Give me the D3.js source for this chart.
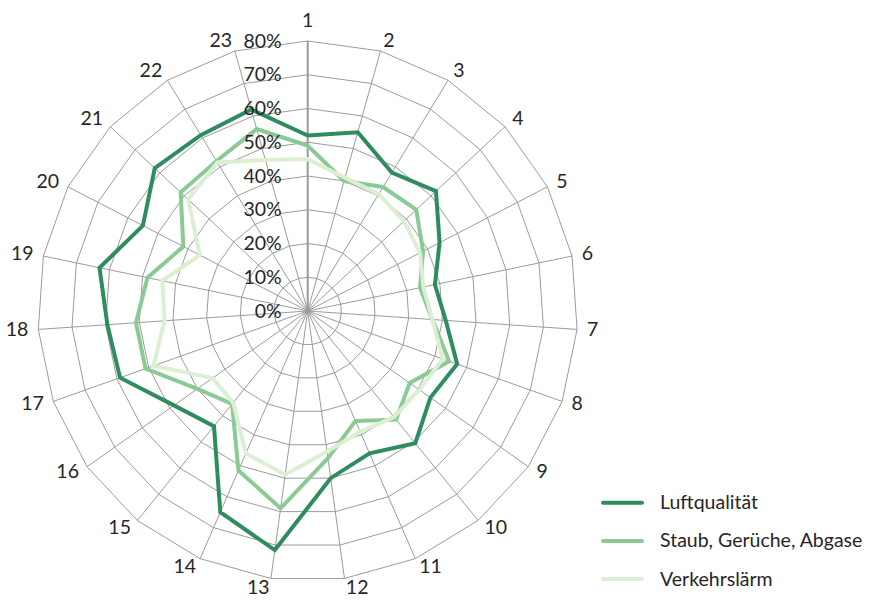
<!DOCTYPE html>
<html>
<head>
<meta charset="utf-8">
<script src="https://cdn.jsdelivr.net/npm/d3@7"></script>
<style>
  html, body { margin: 0; padding: 0; background: #fff; }
  svg { display: block; }
  text { font-family: Lato, "Open Sans", sans-serif; fill: #262626; }
</style>
</head>
<body>
<svg id="chart" width="872" height="602"></svg>
<script>
// Spoke categories (1..23)
const categories = d3.range(1, 24).map(String);

// Percent values per spoke
const luftqualitaet = [52, 55, 48, 52, 44, 38.5, 41, 47, 44.5, 50.5, 46, 50, 71.5, 65, 44, 48.5, 59, 59.5, 63, 55, 62, 61, 62];
const staubGerueche = [49, 40, 43, 44, 38.5, 34, 37, 44.5, 37, 41.5, 35.5, 44, 59, 51.5, 35.5, 40, 51, 51, 48.5, 41.5, 51.5, 52, 56];
const verkehrslaerm = [45, 41, 40.5, 39, 37.5, 35, 37, 42.5, 40.5, 40.5, 39, 42, 49, 46, 35, 34.5, 48.5, 42.5, 44, 36, 48.5, 51.5, 46.5];

const seriesNames = ["Luftqualität", "Staub, Gerüche, Abgase", "Verkehrslärm"];
const seriesColors = ["#2f8c5f", "#8aca96", "#dcefd2"];
const tickValues = [0, 10, 20, 30, 40, 50, 60, 70, 80];

const series = [luftqualitaet, staubGerueche, verkehrslaerm].map((values, i) => ({
  name: seriesNames[i], color: seriesColors[i], values
}));

const svg = d3.select("#chart");
const cx = 307.7, cy = 311;
const fontSize = 19.5;
const r = d3.scaleLinear().domain([0, 80]).range([0, 270]);
const step = 2 * Math.PI / categories.length;
const theta = (c) => categories.indexOf(c) * step;

const g = svg.append("g").attr("transform", `translate(${cx},${cy})`);

// Concentric grid polygons
const ring = d3.lineRadial()
  .angle(d => theta(d.c))
  .radius(d => r(d.v))
  .curve(d3.curveLinearClosed);

g.append("g").selectAll("path")
  .data(tickValues.filter(v => v > 0))
  .join("path")
  .attr("d", v => ring(categories.map(c => ({ c, v }))))
  .attr("fill", "none")
  .attr("stroke", "#9b9b9b")
  .attr("stroke-width", 1);

// Spokes
g.append("g").selectAll("line")
  .data(categories)
  .join("line")
  .attr("x1", 0).attr("y1", 0)
  .attr("x2", c => r(80) * Math.sin(theta(c)))
  .attr("y2", c => -r(80) * Math.cos(theta(c)))
  .attr("stroke", "#9b9b9b")
  .attr("stroke-width", (c, i) => i === 0 ? 2 : 1);

// Series lines
const radarLine = d3.lineRadial()
  .angle((d, i) => theta(categories[i]))
  .radius(d => r(d))
  .curve(d3.curveLinearClosed);

g.append("g").selectAll("path")
  .data(series)
  .join("path")
  .attr("d", s => radarLine(s.values))
  .attr("fill", "none")
  .attr("stroke", s => s.color)
  .attr("stroke-width", 4)
  .attr("stroke-linejoin", "miter");

// Percent tick labels along the first spoke
g.append("g").selectAll("text")
  .data(tickValues)
  .join("text")
  .attr("x", -26)
  .attr("y", v => -r(v) - 1)
  .attr("text-anchor", "end")
  .attr("dominant-baseline", "central")
  .attr("font-size", fontSize)
  .text(v => v + "%");

// Category labels around the outside
const labelR = 280;
g.append("g").selectAll("text")
  .data(categories)
  .join("text")
  .attr("x", c => labelR * Math.sin(theta(c)))
  .attr("y", c => {
    const t = theta(c);
    const y = -labelR * Math.cos(t) - 2;
    return Math.abs(Math.sin(t)) < 0.01 ? y - 10 : y;
  })
  .attr("text-anchor", c => {
    const s = Math.sin(theta(c));
    return Math.abs(s) < 0.01 ? "middle" : (s > 0 ? "start" : "end");
  })
  .attr("dominant-baseline", "central")
  .attr("font-size", fontSize)
  .text(c => c);

// Legend
const legend = svg.append("g").attr("transform", "translate(603,502.7)");
const item = legend.selectAll("g")
  .data(series)
  .join("g")
  .attr("transform", (d, i) => `translate(0,${i * 38.2})`);
item.append("line")
  .attr("x1", 0).attr("x2", 39)
  .attr("stroke", d => d.color)
  .attr("stroke-width", 4)
  .attr("stroke-linecap", "round");
item.append("text")
  .attr("x", 57)
  .attr("y", -1)
  .attr("dominant-baseline", "central")
  .attr("font-size", fontSize)
  .text(d => d.name);
</script>
</body>
</html>
